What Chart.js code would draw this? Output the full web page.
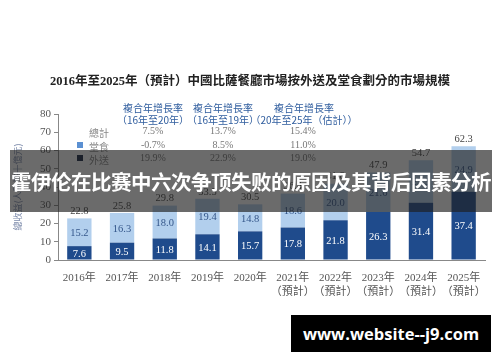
<!DOCTYPE html>
<html>
<head>
<meta charset="utf-8">
<script src="https://cdn.jsdelivr.net/npm/chart.js@4"></script>
<style>
  body { margin: 0; background: #fff; width: 500px; height: 362px; overflow: hidden; position: relative; font-family: "Liberation Serif", "Noto Sans CJK TC", serif; }
  #wrap { position: absolute; left: 0; top: 0; width: 500px; height: 362px; }
  .t { position: absolute; white-space: nowrap; }
  .title { left: 0; width: 500px; top: 70px; text-align: center; font-size: 12.5px; font-weight: bold; color: #222; }
  .hd { color: #2f5d9e; font-size: 10px; text-align: center; font-family: "Noto Sans CJK TC", sans-serif; }
  .val { color: #777; font-size: 10px; text-align: center; width: 60px; }
  .lab { color: #888; font-size: 10px; font-family: "Noto Sans CJK TC", sans-serif; left: 89px; }
  .sq { position: absolute; width: 6px; height: 6px; left: 77px; }
  #banner { position: absolute; left: 10px; top: 150px; width: 482px; height: 62px; background: rgba(30,30,30,0.66); color: #fff; font-family: "Noto Sans CJK SC", sans-serif; font-weight: bold; font-size: 20.5px; line-height: 62px; text-align: center; letter-spacing: -0.5px; white-space: nowrap; overflow: visible; }
  #mark { position: absolute; left: 291px; top: 315px; width: 200px; height: 37px; background: #000; color: #fff; font-family: "Open Sans", sans-serif; font-weight: bold; font-size: 16.5px; line-height: 37px; text-align: center; }
</style>
</head>
<body>
<div id="wrap"><canvas id="chartCanvas" width="500" height="362"></canvas></div>

<div class="t title">2016年至2025年（預計）中國比薩餐廳市場按外送及堂食劃分的市場規模</div>

<div class="t hd" style="left:113px;width:80px;top:100px;">複合年增長率</div>
<div class="t hd" style="left:113px;width:80px;top:112px;">（16年至20年）</div>
<div class="t hd" style="left:183px;width:80px;top:100px;">複合年增長率</div>
<div class="t hd" style="left:183px;width:80px;top:112px;">（16年至19年）</div>
<div class="t hd" style="left:254px;width:100px;top:100px;">複合年增長率</div>
<div class="t hd" style="left:249px;width:110px;top:112px;">（20年至25年（估計））</div>

<div class="t lab" style="top:125px;">總計</div>
<div class="sq" style="top:142px;background:#5b90d2;"></div>
<div class="t lab" style="top:139px;">堂食</div>
<div class="sq" style="top:155px;background:#12213f;"></div>
<div class="t lab" style="top:152px;">外送</div>

<div id="cagr"></div>

<div id="banner">霍伊伦在比赛中六次争顶失败的原因及其背后因素分析</div>
<div id="mark">www.website--j9.com</div>

<script>
// 年份 / 數據（人民幣十億元）
var years = ["2016年", "2017年", "2018年", "2019年", "2020年", "2021年", "2022年", "2023年", "2024年", "2025年"];
var forecast = [false, false, false, false, false, true, true, true, true, true];
var waisong = [7.6, 9.5, 11.8, 14.1, 15.7, 17.8, 21.8, 26.3, 31.4, 37.4];
var tangshi = [15.2, 16.3, 18.0, 19.4, 14.8, 18.6, 20.0, 21.6, 23.3, 24.9];
var totals = [22.8, 25.8, 29.8, 33.5, 30.5, 36.4, 41.8, 47.9, 54.7, 62.3];

// 複合年增長率表
var cagr1 = ["7.5%", "-0.7%", "19.9%"];
var cagr2 = ["13.7%", "8.5%", "22.9%"];
var cagr3 = ["15.4%", "11.0%", "19.0%"];

var cagrBox = document.getElementById("cagr");
var rowTops = [125, 139, 152];
[[cagr1, 123], [cagr2, 193], [cagr3, 273]].forEach(function (col) {
  col[0].forEach(function (v, i) {
    var d = document.createElement("div");
    d.className = "t val";
    d.style.left = col[1] + "px";
    d.style.top = rowTops[i] + "px";
    d.textContent = v;
    cagrBox.appendChild(d);
  });
});

var xLabels = years.map(function (y, i) {
  return forecast[i] ? [y, "（預計）"] : y;
});

var serif = "'Liberation Serif', 'Noto Sans CJK TC', serif";

var valueLabels = {
  id: "valueLabels",
  afterDatasetsDraw: function (chart) {
    var ctx = chart.ctx;
    ctx.save();
    ctx.font = "10.5px " + serif;
    ctx.textAlign = "center";
    ctx.textBaseline = "middle";
    chart.data.datasets.forEach(function (ds, di) {
      var meta = chart.getDatasetMeta(di);
      meta.data.forEach(function (bar, i) {
        var p = bar.getProps(["x", "y", "base"], true);
        ctx.fillStyle = di === 0 ? "#ffffff" : "#34568a";
        ctx.fillText(ds.data[i].toFixed(1), p.x, (p.y + p.base) / 2 + 1);
      });
    });
    var top = chart.getDatasetMeta(1);
    ctx.fillStyle = "#444";
    top.data.forEach(function (bar, i) {
      ctx.fillText(totals[i].toFixed(1), bar.x, bar.y - 7);
    });
    ctx.restore();
  }
};

var ctx = document.getElementById("chartCanvas").getContext("2d");
var myChart = new Chart(ctx, {
  type: "bar",
  data: {
    labels: xLabels,
    datasets: [
      { label: "外送", data: waisong, backgroundColor: "#1f4b8c", categoryPercentage: 1, barPercentage: 0.57 },
      { label: "堂食", data: tangshi, backgroundColor: "#b2cfed", categoryPercentage: 1, barPercentage: 0.57 }
    ]
  },
  options: {
    responsive: false,
    animation: false,
    layout: { padding: { top: 114, right: 15, bottom: 64, left: 0 } },
    plugins: { legend: { display: false }, tooltip: { enabled: false }, title: { display: false } },
    scales: {
      x: {
        stacked: true,
        grid: { display: false },
        border: { color: "#888" },
        ticks: { color: "#555", font: { family: serif, size: 11, lineHeight: 1.25 }, padding: 3, maxRotation: 0, autoSkip: false },
        afterFit: function (s) { s.height = 38; }
      },
      y: {
        stacked: true,
        min: 0,
        max: 80,
        ticks: { stepSize: 10, color: "#555", font: { family: serif, size: 11 }, padding: 3 },
        grid: { drawOnChartArea: false, tickLength: 4, color: "#888" },
        border: { color: "#888" },
        title: { display: true, text: "總收益(人民幣十億元)", color: "#7d8bab", font: { family: "'Noto Sans CJK TC', sans-serif", size: 9 }, padding: { top: 12, bottom: 0 } },
        afterFit: function (s) { s.width = 58; }
      }
    }
  },
  plugins: [valueLabels]
});
</script>
</body>
</html>
